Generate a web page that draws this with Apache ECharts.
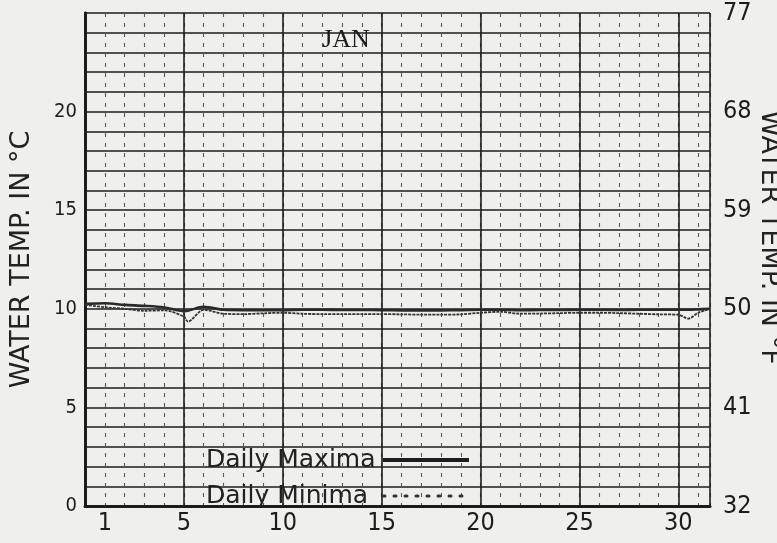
<!DOCTYPE html>
<html><head><meta charset="utf-8">
<script src="https://cdn.jsdelivr.net/npm/echarts@6/dist/echarts.min.js"></script>
<style>html,body{margin:0;padding:0;background:#efefed}#c{width:777px;height:543px}</style>
</head><body><div id="c"></div>
<script>
// sample positions along the month (day of January, 0 = start of Jan 1)
const days = [0,1,2,3,4,5,5.2,6,7,8,9,10,11,12,13,14,15,16,17,18,19,20,21,22,23,24,25,26,27,28,29,30,30.5,31,31.6];
const dailyMaxima = [10.25,10.28,10.2,10.15,10.07,9.88,9.9,10.1,9.95,9.93,9.93,9.93,9.95,9.95,9.94,9.94,9.93,9.92,9.92,9.92,9.93,9.95,9.95,9.93,9.94,9.94,9.95,9.95,9.94,9.95,9.95,9.95,9.95,9.97,10.0];
const dailyMinima = [10.2,10.08,10.0,9.9,9.92,9.6,9.35,9.95,9.75,9.73,9.77,9.8,9.75,9.73,9.73,9.73,9.73,9.72,9.7,9.7,9.72,9.8,9.85,9.75,9.76,9.78,9.8,9.8,9.78,9.75,9.72,9.7,9.5,9.8,10.0];
const dayTickLabels = [1,5,10,15,20,25,30];
const celsiusLabels = [0,5,10,15,20];

const ink = '#1c1c1c';
const narrow = "'Liberation Sans Narrow','DejaVu Sans Condensed',sans-serif";
const chart = echarts.init(document.getElementById('c'));
chart.setOption({
  backgroundColor: '#efefed',
  animation: false,
  title: {
    text: 'JAN', left: 341, top: 22, textAlign: 'center',
    textStyle: {fontFamily: "'Liberation Serif','DejaVu Serif',serif", fontSize: 26, fontWeight: 'normal', color: ink}
  },
  legend: {
    orient: 'vertical', left: 201, top: 440, align: 'right',
    itemWidth: 86, itemHeight: 14, itemGap: 6,
    itemStyle: {opacity: 0},
    formatter: name => '{t|' + name + '}',
    textStyle: {
      fontFamily: "'DejaVu Sans',sans-serif", fontSize: 25, color: '#222', lineHeight: 30,
      rich: {t: {fontFamily: "'DejaVu Sans',sans-serif", fontSize: 25, color: '#222', width: 172, align: 'left', lineHeight: 30}}
    },
    data: [
      {name: 'Daily Maxima', lineStyle: {width: 4, color: ink, type: 'solid'}},
      {name: 'Daily Minima', lineStyle: {width: 3, color: '#333', type: [2, 9], cap: 'round'}}
    ]
  },
  grid: {left: 85, right: 67, top: 13, bottom: 37, outerBoundsMode: 'none', containLabel: false},
  xAxis: [
    {
      type: 'value', min: 0, max: 31.6, interval: 1,
      axisLine: {show: true, lineStyle: {color: ink, width: 3}},
      axisTick: {show: false},
      axisLabel: {
        showMaxLabel: false, margin: 5, color: ink, fontFamily: narrow, fontSize: 25,
        formatter: v => dayTickLabels.includes(v) ? String(v) : ''
      },
      splitLine: {show: true, lineStyle: {color: '#5a5a5a', width: 1.1, type: [4, 6]}}
    },
    {
      type: 'value', min: 0, max: 31.6, interval: 5, position: 'bottom',
      axisLine: {show: false}, axisTick: {show: false}, axisLabel: {show: false},
      splitLine: {show: true, lineStyle: {color: ink, width: 1.6}}
    }
  ],
  yAxis: [
    {
      type: 'value', min: 0, max: 25, interval: 1, position: 'left',
      name: 'WATER TEMP. IN °C', nameLocation: 'middle', nameGap: 50,
      nameTextStyle: {fontFamily: "'DejaVu Sans',sans-serif", fontSize: 27, color: '#222'},
      axisLine: {show: true, lineStyle: {color: ink, width: 3}},
      axisTick: {show: false},
      axisLabel: {
        margin: 8, color: ink, fontFamily: narrow, fontSize: 20,
        formatter: v => celsiusLabels.includes(v) ? String(v) : ''
      },
      splitLine: {show: true, lineStyle: {color: ink, width: 1.6}}
    },
    {
      type: 'value', min: 0, max: 25, interval: 5, position: 'right',
      name: 'WATER TEMP. IN °F', nameLocation: 'middle', nameGap: 46, nameRotate: -90, nameMoveOverlap: false,
      nameTextStyle: {fontFamily: "'DejaVu Sans',sans-serif", fontSize: 27, color: '#222', padding: [0, 44, 0, 0]},
      axisLine: {show: true, lineStyle: {color: ink, width: 2.5}},
      axisTick: {show: false},
      axisLabel: {margin: 13, color: ink, fontFamily: narrow, fontSize: 25, formatter: v => String(Math.round(v * 9 / 5 + 32))},
      splitLine: {show: false}
    }
  ],
  series: [
    {
      name: 'Daily Maxima', type: 'line', symbol: 'none', smooth: 0.3,
      itemStyle: {color: '#2a2a2a'},
      lineStyle: {color: '#2a2a2a', width: 2.6},
      data: days.map((d, i) => [d, dailyMaxima[i]])
    },
    {
      name: 'Daily Minima', type: 'line', symbol: 'none', smooth: 0.3,
      itemStyle: {color: '#333'},
      lineStyle: {color: '#333', width: 1.8, type: [3, 1]},
      data: days.map((d, i) => [d, dailyMinima[i]])
    }
  ]
});
</script></body></html>
